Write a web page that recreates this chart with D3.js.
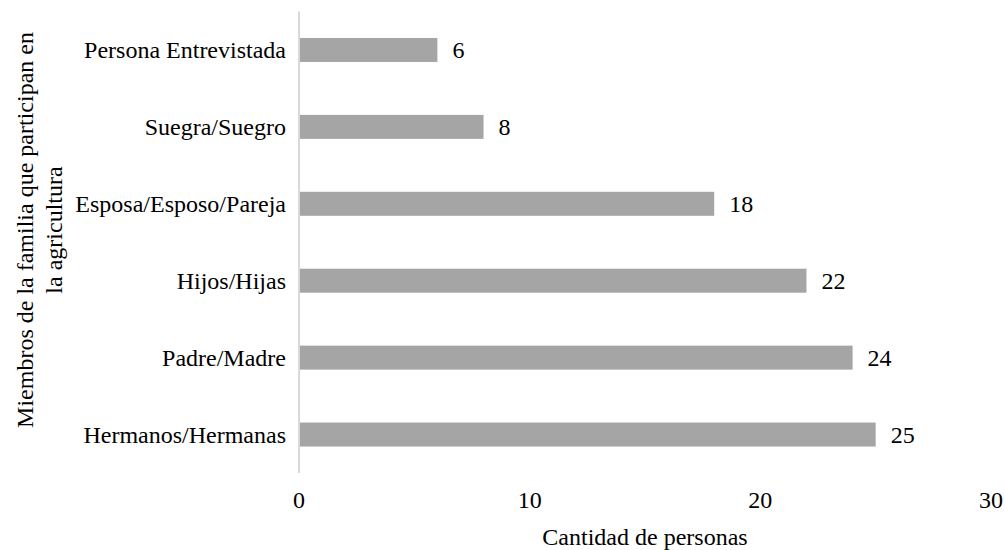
<!DOCTYPE html>
<html>
<head>
<meta charset="utf-8">
<script src="https://cdn.jsdelivr.net/npm/d3@7"></script>
</head>
<body style="margin:0">
<svg id="c" width="1005" height="550"></svg>
<script>
const categories = ["Persona Entrevistada", "Suegra/Suegro", "Esposa/Esposo/Pareja", "Hijos/Hijas", "Padre/Madre", "Hermanos/Hermanas"];
const values = [6, 8, 18, 22, 24, 25];
const xTicks = [0, 10, 20, 30];
const xTitle = "Cantidad de personas";
const yTitleLines = ["Miembros de la familia que participan en", "la agricultura"];

const FONT = "'Liberation Serif'";
const svg = d3.select("#c");
const plotLeft = 299, plotRight = 991, plotTop = 11.5, plotBottom = 473;

const x = d3.scaleLinear().domain([0, 30]).range([plotLeft, plotRight]);
const y = d3.scaleBand().domain(categories).range([plotTop, plotBottom]).paddingInner(0.688).paddingOuter(0.344);

// bars
svg.append("g").selectAll("rect")
  .data(categories)
  .join("rect")
  .attr("x", x(0))
  .attr("y", d => y(d))
  .attr("width", (d, i) => x(values[i]) - x(0))
  .attr("height", y.bandwidth())
  .attr("fill", "#a5a5a5");

// axis line
svg.append("line")
  .attr("x1", x(0)).attr("x2", x(0))
  .attr("y1", plotTop).attr("y2", plotBottom)
  .attr("stroke", "#d9d9d9").attr("stroke-width", 2);

// category labels
svg.append("g").selectAll("text")
  .data(categories)
  .join("text")
  .attr("x", x(0) - 13)
  .attr("y", d => y(d) + y.bandwidth() / 2 + 8)
  .attr("text-anchor", "end")
  .attr("font-size", 24)
  .style("font-family", FONT)
  .text(d => d);

// value labels
svg.append("g").selectAll("text")
  .data(categories)
  .join("text")
  .attr("x", (d, i) => x(values[i]) + 15)
  .attr("y", d => y(d) + y.bandwidth() / 2 + 8)
  .attr("font-size", 24)
  .style("font-family", FONT)
  .text((d, i) => values[i]);

// x tick labels
svg.append("g").selectAll("text")
  .data(xTicks)
  .join("text")
  .attr("x", d => x(d))
  .attr("y", 508)
  .attr("text-anchor", "middle")
  .attr("font-size", 24)
  .style("font-family", FONT)
  .text(d => d);

// x title
svg.append("text")
  .attr("x", (plotLeft + plotRight) / 2)
  .attr("y", 545)
  .attr("text-anchor", "middle")
  .attr("font-size", 24)
  .style("font-family", FONT)
  .text(xTitle);

// y title
const yt = svg.append("text")
  .attr("transform", "translate(0,230) rotate(-90)")
  .attr("text-anchor", "middle")
  .attr("font-size", 24)
  .style("font-family", FONT);
yTitleLines.forEach((line, i) => {
  yt.append("tspan").attr("x", 0).attr("y", 33 + i * 29).text(line);
});
</script>
</body>
</html>
